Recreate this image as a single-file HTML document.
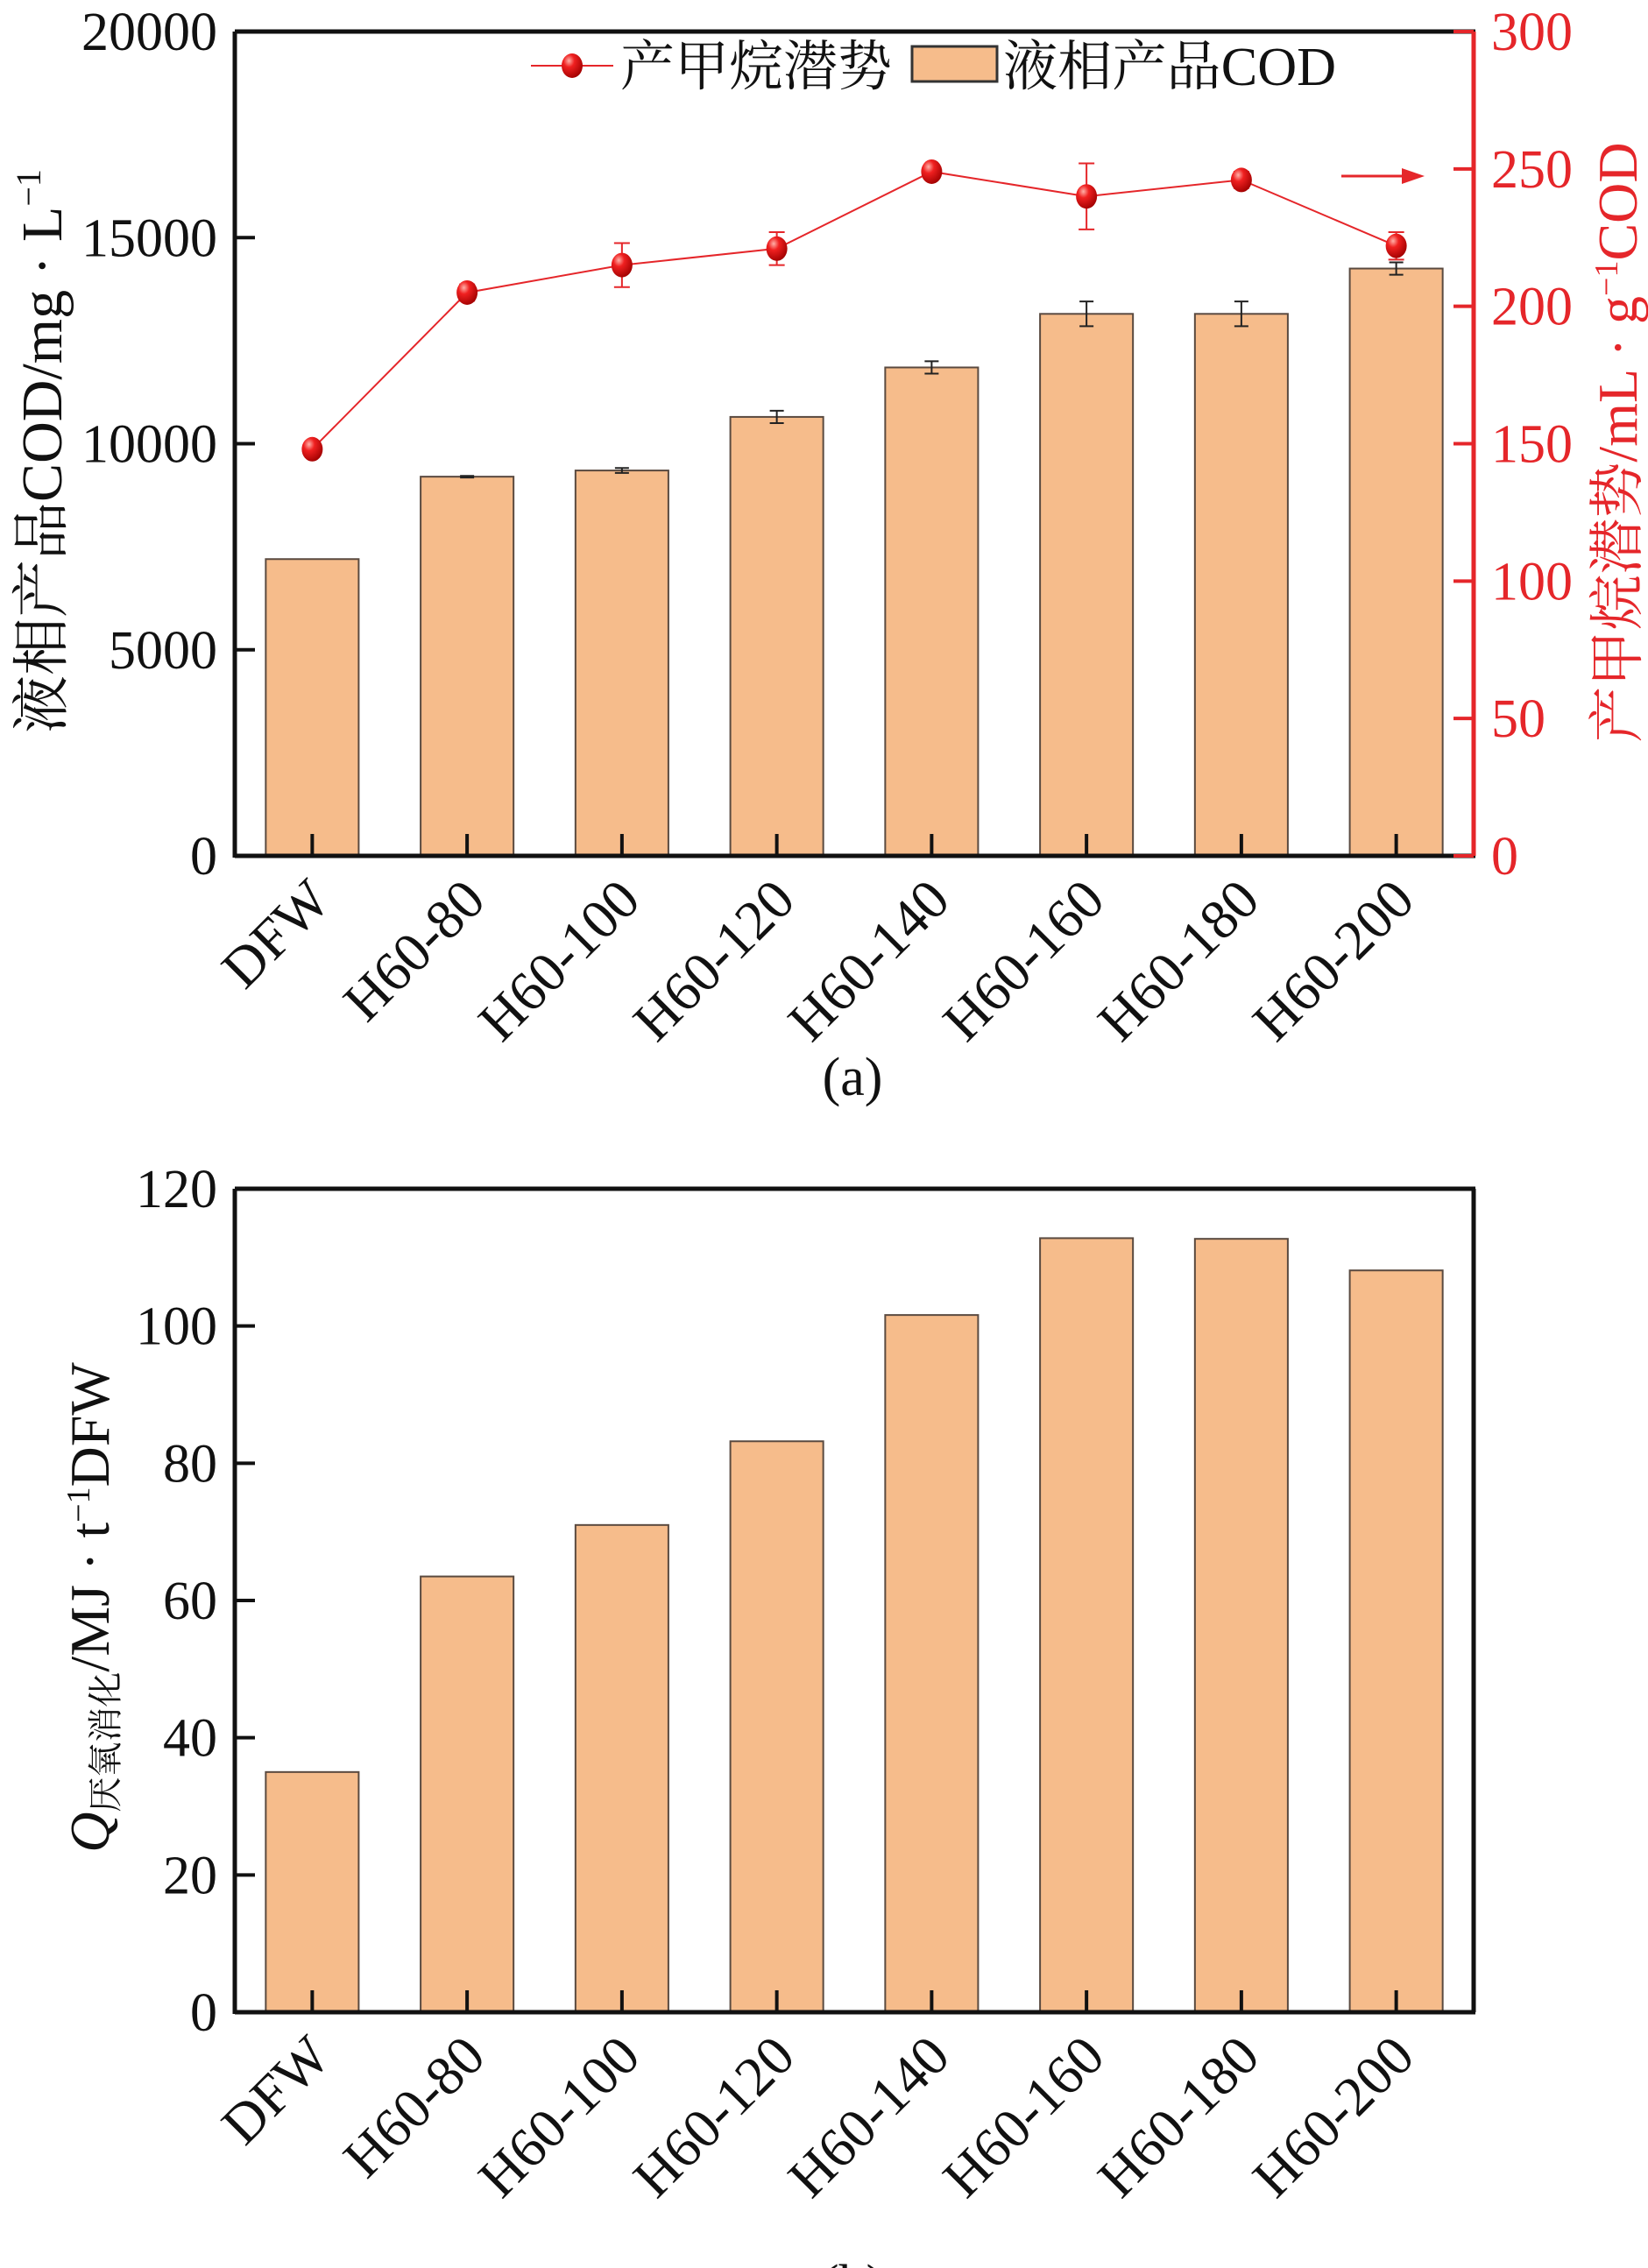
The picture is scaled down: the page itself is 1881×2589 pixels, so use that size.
<!DOCTYPE html>
<html><head><meta charset="utf-8">
<style>
html,body{margin:0;padding:0;background:#fff;}
svg{display:block;}
text{font-family:"Liberation Serif","Noto Serif CJK SC","Noto Sans CJK SC",serif;}
</style></head>
<body>
<svg id="chart" width="1881" height="2589" viewBox="0 0 1881 2589" xmlns="http://www.w3.org/2000/svg">
<defs>
<radialGradient id="ball" cx="0.35" cy="0.3" r="0.75">
<stop offset="0" stop-color="#ffb0a8"/>
<stop offset="0.35" stop-color="#f02020"/>
<stop offset="1" stop-color="#a00000"/>
</radialGradient>
</defs>
<g id="chart-a"></g>
<g id="chart-b"></g>
</svg>
<script>
const categories = ["DFW","H60-80","H60-100","H60-120","H60-140","H60-160","H60-180","H60-200"];
const codValues = [7200, 9200, 9350, 10650, 11850, 13150, 13150, 14250];
const codErrors = [0, 20, 60, 150, 150, 300, 300, 150];
const methaneValues = [148, 205, 215, 221, 249, 240, 246, 222];
const methaneErrors = [0, 3, 8, 6, 1, 12, 3, 5];
const leftTicksA = [0, 5000, 10000, 15000, 20000];
const rightTicksA = [0, 50, 100, 150, 200, 250, 300];
const energyValues = [35, 63.5, 71, 83.2, 101.6, 112.8, 112.7, 108.1];
const leftTicksB = [0, 20, 40, 60, 80, 100, 120];

const NS = "http://www.w3.org/2000/svg";
function mk(parent, tag, attrs, txt) {
  const e = document.createElementNS(NS, tag);
  for (const k in attrs) e.setAttribute(k, attrs[k]);
  if (txt !== undefined) e.textContent = txt;
  parent.appendChild(e);
  return e;
}
const L = 268, R = 1682, band = (R - L) / categories.length;
const FILL = "#F6BC8B", RED = "#E5262A";
function xc(i) { return L + (i + 0.5) * band; }

function drawPanel(g, top, bottom, ymax, values, errors, ticks, rightRed) {
  const y = v => bottom - (v / ymax) * (bottom - top);
  const bw = band * 0.6;
  values.forEach((v, i) => {
    const r = mk(g, "rect", {x: xc(i) - bw / 2, y: y(v), width: bw, height: bottom - y(v), fill: FILL, stroke: "#5a4a40", "stroke-width": 2});
    
    
    if (errors && errors[i] > 0) {
      const eg = mk(g, "g", {stroke: "#222", "stroke-width": 2});
      
      
      const y1 = y(v + errors[i]), y2 = y(v - errors[i]);
      mk(eg, "line", {x1: xc(i), x2: xc(i), y1: y1, y2: y2});
      mk(eg, "line", {x1: xc(i) - 8, x2: xc(i) + 8, y1: y1, y2: y1});
      mk(eg, "line", {x1: xc(i) - 8, x2: xc(i) + 8, y1: y2, y2: y2});
    }
  });
  const fr = mk(g, "g", {stroke: "#111", "stroke-width": 5, fill: "none"});
  
  
  mk(fr, "line", {x1: L, x2: R + 2, y1: top, y2: top});
  mk(fr, "line", {x1: L, x2: R + 2, y1: bottom, y2: bottom});
  mk(fr, "line", {x1: L, x2: L, y1: top, y2: bottom + 2});
  mk(fr, "line", {x1: R, x2: R, y1: top, y2: bottom, stroke: rightRed ? RED : "#111"});
  ticks.forEach(t => {
    mk(g, "line", {x1: L, x2: L + 23, y1: y(t), y2: y(t), stroke: "#111", "stroke-width": 4});
    const tl = mk(g, "text", {x: L - 20, y: y(t) + 21, "font-size": 62, "text-anchor": "end", fill: "#111"}, String(t));
    
    
  });
  categories.forEach((c, i) => {
    mk(g, "line", {x1: xc(i), x2: xc(i), y1: bottom, y2: bottom - 25, stroke: "#111", "stroke-width": 4});
    const ax = xc(i) - 8, ay = bottom + 22;
    const t = mk(g, "text", {x: ax, y: ay, "font-size": 64, "text-anchor": "end", fill: "#111", transform: `rotate(-45 ${ax} ${ay})`, dy: "0.7em"}, c);
    
    
  });
  return y;
}

// ---------- Chart A ----------
const gA = document.getElementById("chart-a");
const topA = 36, botA = 977;
drawPanel(gA, topA, botA, 20000, codValues, codErrors, leftTicksA, true);
const yR = v => botA - (v / 300) * (botA - topA);
rightTicksA.forEach(t => {
  mk(gA, "line", {x1: R - 23, x2: R, y1: yR(t), y2: yR(t), stroke: RED, "stroke-width": 4});
  const tl = mk(gA, "text", {x: R + 20, y: yR(t) + 21, "font-size": 62, fill: RED}, String(t));
  
  
});
const pts = methaneValues.map((v, i) => `${xc(i)},${yR(v)}`).join(" ");
const ln = mk(gA, "polyline", {points: pts, fill: "none", stroke: RED, "stroke-width": 2});


methaneValues.forEach((v, i) => {
  if (methaneErrors[i] > 0) {
    const eg = mk(gA, "g", {stroke: RED, "stroke-width": 2});
    
    
    const y1 = yR(v + methaneErrors[i]), y2 = yR(v - methaneErrors[i]);
    mk(eg, "line", {x1: xc(i), x2: xc(i), y1: y1, y2: y2});
    mk(eg, "line", {x1: xc(i) - 9, x2: xc(i) + 9, y1: y1, y2: y1});
    mk(eg, "line", {x1: xc(i) - 9, x2: xc(i) + 9, y1: y2, y2: y2});
  }
  const p = mk(gA, "ellipse", {cx: xc(i), cy: yR(v), rx: 12, ry: 14, fill: "url(#ball)"});
  
  
});
const ar = mk(gA, "g", {});


mk(ar, "line", {x1: 1531, x2: 1605, y1: 201, y2: 201, stroke: RED, "stroke-width": 3});
mk(ar, "polygon", {points: "1600,192 1626,201 1600,210", fill: RED});
const lg = mk(gA, "g", {});


mk(lg, "line", {x1: 606, x2: 700, y1: 75, y2: 75, stroke: RED, "stroke-width": 2});
mk(lg, "ellipse", {cx: 653, cy: 75, rx: 12, ry: 14, fill: "url(#ball)"});
mk(lg, "text", {x: 708, y: 97, "font-size": 62, fill: "#111"}, "产甲烷潜势");
mk(lg, "rect", {x: 1041, y: 53, width: 97, height: 40, fill: FILL, stroke: "#333", "stroke-width": 3});
mk(lg, "text", {x: 1145, y: 97, "font-size": 62, fill: "#111", textLength: 380, lengthAdjust: "spacingAndGlyphs"}, "液相产品COD");
const ytA = mk(gA, "text", {x: 0, y: 0, "font-size": 66, "text-anchor": "middle", fill: "#111", transform: "translate(70 515) rotate(-90)"});


ytA.innerHTML = '液相产品COD/mg · L<tspan dy="-24" font-size="40">−1</tspan>';
const ytR = mk(gA, "text", {x: 0, y: 0, "font-size": 64, "text-anchor": "middle", fill: RED, transform: "translate(1868 505) rotate(-90)"});


ytR.innerHTML = '产甲烷潜势/mL · g<tspan dy="-22" font-size="38">−1</tspan><tspan dy="22">COD</tspan>';
const capA = mk(gA, "text", {x: 973, y: 1250, "font-size": 62, "text-anchor": "middle", fill: "#111"}, "(a)");



// ---------- Chart B ----------
const gB = document.getElementById("chart-b");
drawPanel(gB, 1357, 2297, 120, energyValues, null, leftTicksB, false);
const ytB = mk(gB, "text", {x: 0, y: 0, "font-size": 64, "text-anchor": "middle", fill: "#111", transform: "translate(124 1835) rotate(-90)"});


ytB.innerHTML = '<tspan font-style="italic">Q</tspan><tspan font-size="40" dy="10">厌氧消化</tspan><tspan dy="-10">/MJ · t</tspan><tspan dy="-22" font-size="38">−1</tspan><tspan dy="22">DFW</tspan>';
const capB = mk(gB, "text", {x: 973, y: 2628, "font-size": 62, "text-anchor": "middle", fill: "#111"}, "(b)");


</script>
</body></html>
